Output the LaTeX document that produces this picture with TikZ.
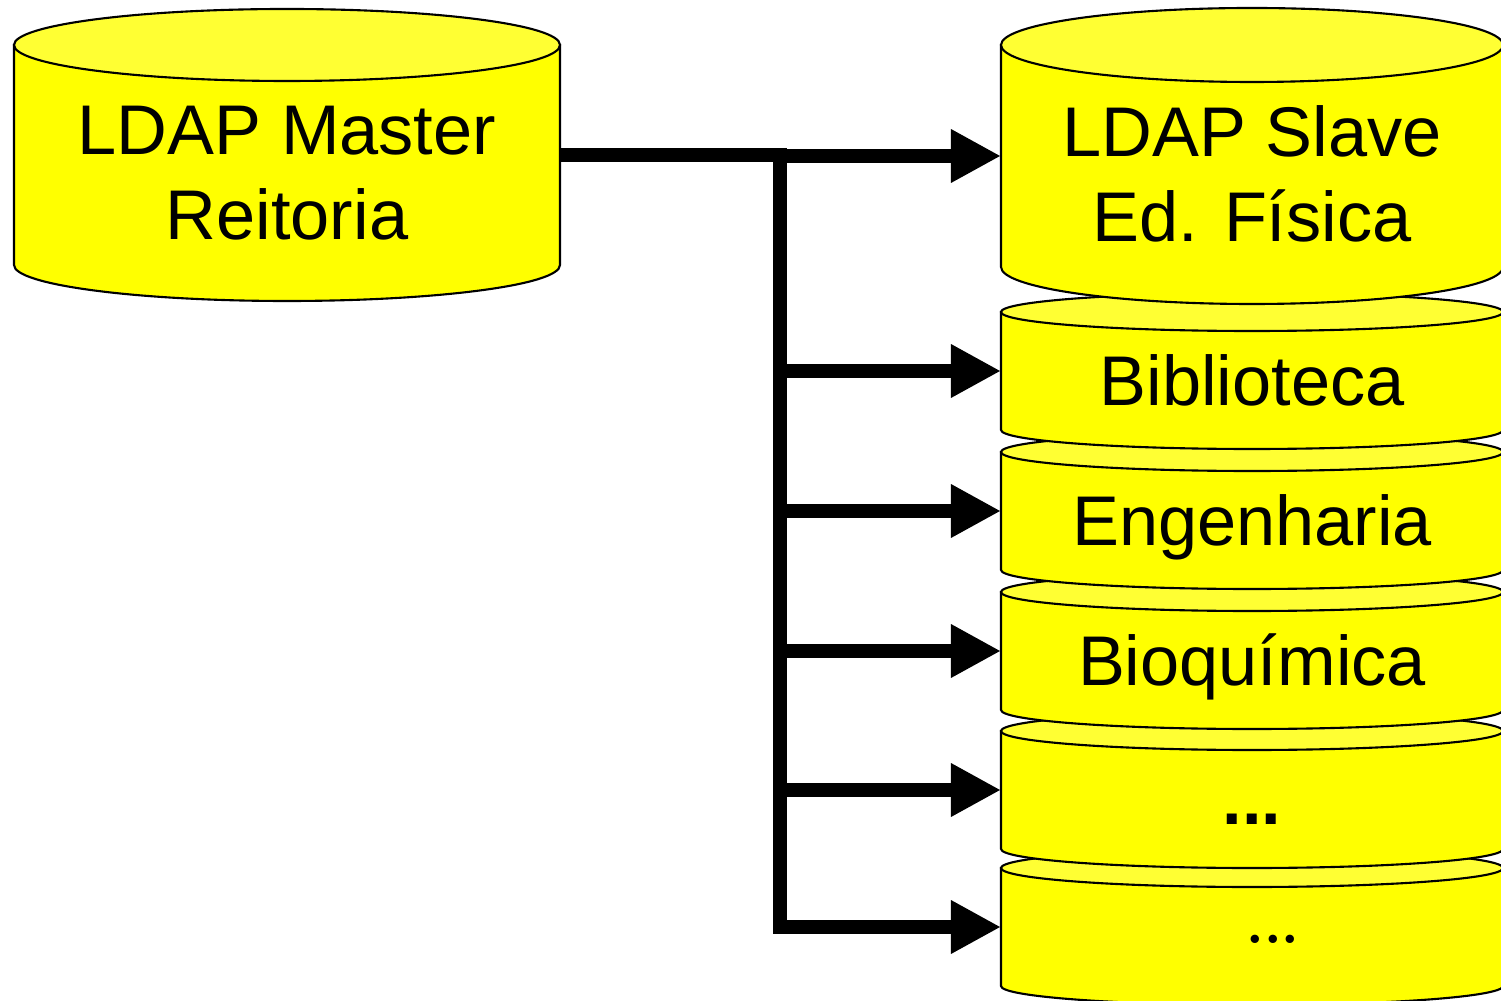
\documentclass[tikz,border=0pt]{standalone}
\usepackage{fontspec}
\setmainfont{Liberation Sans}
\newfontfamily\roundfont{Liberation Serif}
\usetikzlibrary{arrows.meta,calc}

\definecolor{diskyellow}{RGB}{255,255,0}
\definecolor{lidyellow}{RGB}{255,255,51}

% #1 name, #2 centre x, #3 top rim y, #4 bottom rim y, #5 x radius, #6 y radius
\newcommand{\dbdisk}[6]{%
  \filldraw[diskside] ({#2-#5},#3) -- ({#2-#5},#4)
    arc[start angle=180, end angle=360, x radius=#5, y radius=#6]
    -- ({#2+#5},#3) -- cycle;
  \filldraw[disklid] (#2,#3) ellipse[x radius=#5, y radius=#6];
  \node[diskspot, minimum width={2*#5*0.01cm}, minimum height={(#3-#4)*0.01cm}]
    (#1) at (#2,{(#3+#4)/2}) {};
}

\begin{document}
\begin{tikzpicture}[x=0.01cm, y=0.01cm]
\tikzstyle{diskside} = [draw=black, line width=0.6pt, fill=diskyellow]
\tikzstyle{disklid} = [draw=black, line width=0.6pt, fill=lidyellow]
\tikzstyle{diskspot} = [rectangle, inner sep=0pt, outer sep=0pt]
\tikzstyle{disktext} = [font=\fontsize{20}{24}\selectfont, align=center, inner sep=0pt]
\tikzstyle{disktag} = [font=\fontsize{20}{24}\selectfont, text height=14.4pt, text depth=0pt, inner sep=0pt]
\tikzstyle{feed} = [line width=1.4mm, -{Triangle[length=5mm, width=5mm]}]

\useasboundingbox (0,0) rectangle (1501,1000);
\clip (0,0) rectangle (1501,1000);

% slaves, lowest first so each rim lies over the one below
\dbdisk{dotsb}{1252}{132}{14}{251}{19}
\dbdisk{dotsa}{1252}{269}{151}{251}{19}
\dbdisk{bio}{1252}{408}{290}{251}{19}
\dbdisk{eng}{1252}{548}{430}{251}{19}
\dbdisk{bib}{1252}{688}{570}{251}{19}
\dbdisk{slave}{1252}{955}{733}{251}{37}
\dbdisk{master}{287}{955}{735}{273}{36}

\node [disktext] (master text) at (287,827) {LDAP Master\\Reitoria};
\node [disktext] (slave text) at (1252,826) {LDAP Slave\\Ed. Física};
\node [disktag] (bib text) at (1252,620) {Biblioteca};
\node [disktag] (eng text) at (1252,480) {Engenharia};
\node [disktag] (bio text) at (1252,340) {Bioquímica};
\node [disktag] (dotsa text) at (1252,201) {\bfseries ...};
\node [disktag] (dotsb text) at (1273,83) {\roundfont ...};

\path (master.east) -- ++(220,0) coordinate (split);

\draw [feed] (master.east) -- (split) -- (split |- dotsb.west) -- (dotsb.west);
\foreach \n in {slave, bib, eng, bio, dotsa}
  \draw [feed] (split |- \n.west) -- (\n.west);
\end{tikzpicture}
\end{document}
